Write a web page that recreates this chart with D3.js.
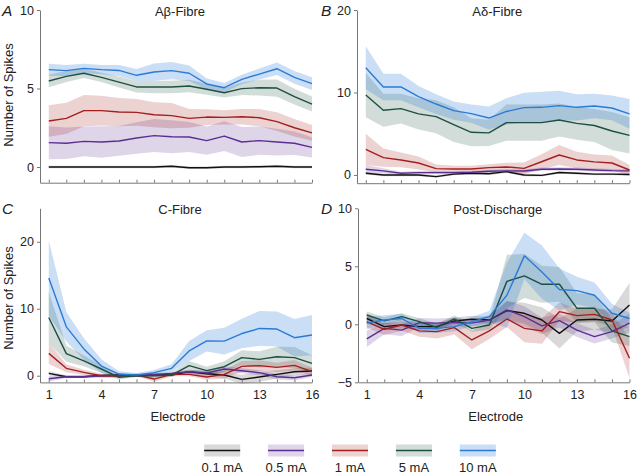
<!DOCTYPE html>
<html><head><meta charset="utf-8">
<script src="https://cdn.jsdelivr.net/npm/d3@7"></script>
<style>body{margin:0;background:#fff}svg{display:block}text{font-family:"Liberation Sans",Arial,sans-serif}</style>
</head><body><svg id="c" width="640" height="475"></svg>
<script>
const electrodes = d3.range(1, 17);
const seriesLabels = ["0.1 mA", "0.5 mA", "1 mA", "5 mA", "10 mA"];
const seriesColors = ["#111111", "#5c2d91", "#a31f1f", "#1d4f43", "#2b7bd6"];
const bandOpacity = [0.16, 0.2, 0.2, 0.2, 0.25];
const xTickLabels = [1, 4, 7, 10, 13, 16];
const panelTitles = ["A\u03b2-Fibre", "A\u03b4-Fibre", "C-Fibre", "Post-Discharge"];
const panelLetters = ["A", "B", "C", "D"];
const yTicksA = [0, 5, 10], yTicksB = [0, 10, 20], yTicksC = [0, 10, 20], yTicksD = [-5, 0, 5, 10];

// Panel A: A-beta fibre (means, half-width of shaded band)
const meanA = [
  [0,0,0,0,0,0,0,0.05,-0.05,-0.05,0,0,0.02,0.05,0,0],
  [1.55,1.51,1.63,1.59,1.66,1.85,2.0,1.93,1.91,1.68,1.97,1.59,1.68,1.59,1.51,1.25],
  [2.93,3.1,3.59,3.59,3.5,3.48,3.33,3.27,3.1,3.18,3.16,3.2,3.14,2.89,2.5,2.17],
  [5.48,5.77,5.97,5.71,5.41,5.1,5.1,5.1,5.16,4.95,4.73,4.99,5.05,5.03,4.48,4.01],
  [6.2,6.14,6.28,6.2,6.15,5.84,6.05,6.14,5.97,5.29,5.05,5.58,5.92,6.26,5.71,5.31]
];
const errA = [
  [0.08,0.08,0.08,0.08,0.08,0.08,0.08,0.08,0.08,0.08,0.08,0.08,0.08,0.08,0.08,0.08],
  [1.05,1.0,0.95,1.0,0.95,1.0,1.05,1.05,0.95,0.9,0.95,0.95,0.9,0.85,0.75,0.65],
  [1.0,1.0,1.0,0.95,0.9,0.85,0.8,0.8,0.6,0.5,0.45,0.5,0.55,0.6,0.55,0.5],
  [0.4,0.35,0.3,0.3,0.35,0.35,0.4,0.4,0.4,0.35,0.3,0.4,0.5,0.55,0.5,0.48],
  [0.38,0.35,0.3,0.3,0.35,0.4,0.55,0.55,0.5,0.35,0.3,0.3,0.35,0.4,0.4,0.4]
];
// Panel B: A-delta fibre
const meanB = [
  [0.2,0,0,0,-0.2,0.1,0.2,0.15,0.4,0,-0.05,0.3,0.2,0.1,0.1,0.05],
  [0.7,0.5,0.2,0.28,0.28,0.28,0.32,0.44,0.5,0.48,0.7,0.73,0.7,0.6,0.52,0.5],
  [3.1,2.1,1.82,1.45,0.77,0.73,0.73,0.89,0.97,0.8,1.6,2.42,1.82,1.58,1.45,0.6],
  [9.7,7.84,8.04,7.4,7.07,6.1,5.17,5.1,6.34,6.34,6.34,6.67,6.26,6.0,5.33,4.8],
  [13.0,10.67,10.67,9.5,8.6,7.8,7.43,6.9,7.7,8.16,8.2,8.4,8.2,8.36,8.12,7.4]
];
const errB = [
  [0.15,0.15,0.15,0.15,0.15,0.15,0.15,0.15,0.15,0.15,0.15,0.15,0.15,0.15,0.15,0.15],
  [0.5,0.3,0.2,0.2,0.2,0.2,0.2,0.2,0.2,0.2,0.2,0.2,0.2,0.2,0.2,0.2],
  [1.9,1.1,0.9,0.8,0.5,0.4,0.4,0.4,0.5,0.7,0.9,1.2,1.0,0.9,0.9,0.6],
  [2.7,2.0,1.8,1.9,2.0,2.1,1.7,1.6,2.2,2.2,2.2,2.0,2.0,2.0,2.3,2.2],
  [2.6,1.6,1.6,1.3,1.2,1.1,1.1,1.4,1.6,1.8,1.9,1.8,1.6,1.5,1.5,1.8]
];
// Panel C: C fibre
const meanC = [
  [0.35,-0.15,-0.15,0.05,0.1,0,0.1,0.1,0.6,0.3,0.1,-0.55,-0.2,0.2,0.6,0.7],
  [-0.45,-0.15,-0.15,-0.05,0,0.1,0.2,0.35,0.6,0.4,1.0,0.75,0.45,-0.15,-0.3,0.1],
  [3.33,1.1,0.5,0,-0.05,0.1,-0.5,0.2,0.2,-0.2,0.2,1.4,1.5,1.24,1.54,0.6],
  [8.7,3.3,2.2,1.0,-0.25,0,0,0.1,1.5,0.75,1.34,2.7,2.44,2.84,2.7,1.84],
  [14.6,7.3,4.0,1.44,0.25,0.1,0.45,1.1,3.7,5.2,5.17,6.3,7.06,6.97,5.67,6.07]
];
const errC = [
  [0.3,0.2,0.2,0.2,0.2,0.2,0.2,0.2,0.3,0.4,0.5,0.7,0.7,0.6,0.5,0.5],
  [0.4,0.2,0.2,0.2,0.2,0.2,0.2,0.2,0.3,0.3,0.4,0.4,0.4,0.4,0.4,0.3],
  [1.6,0.6,0.4,0.3,0.3,0.2,0.4,0.3,0.3,0.4,0.6,0.8,0.8,0.7,0.8,0.6],
  [3.8,1.2,0.8,0.6,0.3,0.2,0.3,0.3,0.7,0.6,0.8,1.1,1.2,1.5,1.6,1.2],
  [5.6,2.2,1.6,1.0,0.4,0.3,0.4,0.6,1.5,1.6,2.0,2.2,2.6,2.6,2.8,3.0]
];
// Panel D: post-discharge
const meanD = [
  [0.5,-0.2,-0.06,-0.2,-0.2,0.29,0.43,0.37,1.18,0.95,0.37,-0.78,0.37,0.43,0.29,1.67],
  [-1.26,-0.35,-0.5,0.14,0.1,0.17,0.1,0.37,1.24,0.66,-0.14,0.32,-0.5,-1.06,-0.63,0.1],
  [0.23,-0.43,-0.06,-0.57,-0.63,-0.29,-1.35,-0.57,0.46,-0.35,-0.57,1.09,0.75,0.86,0.37,-2.93],
  [0.8,0.3,0.66,0.23,-0.26,0.46,-0.35,-0.06,3.7,4.17,3.45,3.45,1.38,1.38,-0.57,-1.06],
  [0.1,0.37,0.5,-0.35,-0.35,-0.2,0.23,0.66,2.5,5.9,4.5,3.0,2.9,2.5,0.95,0.5]
];
const errD = [
  [0.4,0.3,0.3,0.3,0.3,0.3,0.3,0.3,0.8,0.9,1.1,1.3,1.0,0.9,1.0,1.9],
  [0.7,0.5,0.5,0.4,0.4,0.4,0.3,0.4,0.8,0.9,0.7,0.6,0.6,0.6,0.6,0.8],
  [0.5,0.5,0.5,0.5,0.6,0.6,0.8,0.7,0.7,1.2,1.1,0.8,0.6,0.6,0.6,1.7],
  [0.3,0.3,0.3,0.3,0.3,0.3,0.3,0.4,2.3,1.9,1.6,1.5,1.3,1.2,1.0,0.8],
  [0.5,0.4,0.4,0.4,0.4,0.4,0.4,0.5,2.8,2.0,2.3,1.8,1.2,1.1,0.8,0.5]
];

const svg = d3.select("#c");
const panels = [
  {mean: meanA, err: errA, yDom: [-1, 10], yTicks: yTicksA, xr: [40, 312], yr: [182.7, 10], labels: false, ylabY: 95},
  {mean: meanB, err: errB, yDom: [-1, 20], yTicks: yTicksB, xr: [357, 629.5], yr: [183.2, 10], labels: false},
  {mean: meanC, err: errC, yDom: [-1, 25], yTicks: yTicksC, xr: [40, 312], yr: [382.4, 208.3], labels: true, ylabY: 298},
  {mean: meanD, err: errD, yDom: [-5, 10], yTicks: yTicksD, xr: [358, 629.5], yr: [382.3, 208.3], labels: true}
];
const axisCol = "#777";
panels.forEach((p, pi) => {
  const x = d3.scaleLinear().domain([0.5, 16]).range(p.xr);
  const y = d3.scaleLinear().domain(p.yDom).range(p.yr);
  const g = svg.append("g");
  p.mean.forEach((m, si) => {
    const area = d3.area().x((d, i) => x(electrodes[i]))
      .y0((d, i) => y(m[i] - p.err[si][i])).y1((d, i) => y(m[i] + p.err[si][i]));
    g.append("path").datum(m).attr("d", area).attr("fill", seriesColors[si]).attr("fill-opacity", bandOpacity[si]);
  });
  p.mean.forEach((m, si) => {
    const line = d3.line().x((d, i) => x(electrodes[i])).y(d => y(d));
    g.append("path").datum(m).attr("d", line).attr("fill", "none").attr("stroke", seriesColors[si]).attr("stroke-width", 1.4).attr("stroke-linejoin", "round");
  });
  const xa = g.append("g").attr("transform", `translate(0,${p.yr[0]})`)
    .call(d3.axisBottom(x).tickValues(electrodes).tickSizeInner(-3).tickSizeOuter(0)
      .tickFormat(d => p.labels && xTickLabels.includes(d) ? d : ""));
  xa.select(".domain").attr("stroke", axisCol);
  xa.selectAll(".tick line").attr("stroke", axisCol);
  xa.selectAll(".tick text").attr("font-size", 12.5).attr("fill", "#222").attr("dy", "1.1em")
    .attr("font-family", "Liberation Sans, Arial, sans-serif");
  const ya = g.append("g").attr("transform", `translate(${p.xr[0]},0)`)
    .call(d3.axisLeft(y).tickValues(p.yTicks).tickSize(3).tickSizeOuter(0).tickFormat(d => d < 0 ? "\u2212" + Math.abs(d) : d));
  ya.select(".domain").attr("stroke", axisCol);
  ya.selectAll(".tick line").attr("stroke", axisCol);
  ya.selectAll(".tick text").attr("font-size", 12.5).attr("fill", "#222")
    .attr("font-family", "Liberation Sans, Arial, sans-serif");
  const cx = (p.xr[0] + p.xr[1]) / 2 + 4;
  g.append("text").attr("x", cx).attr("y", p.yr[1] + 6).attr("text-anchor", "middle")
    .attr("font-size", 13).attr("fill", "#222").text(panelTitles[pi]);
  g.append("text").attr("x", pi % 2 === 0 ? 2 : 321).attr("y", p.yr[1] + 6)
    .attr("font-size", 15.5).attr("font-style", "italic").attr("fill", "#222").text(panelLetters[pi]);
  if (pi % 2 === 0) {
    g.append("text").attr("transform", `translate(13,${p.ylabY}) rotate(-90)`)
      .attr("text-anchor", "middle").attr("font-size", 13).attr("fill", "#222").text("Number of Spikes");
  }
  if (p.labels) {
    g.append("text").attr("x", cx - 2).attr("y", 421).attr("text-anchor", "middle")
      .attr("font-size", 13).attr("fill", "#222").text("Electrode");
  }
});
const lx = d3.scaleBand().domain(seriesLabels).range([203, 497]).paddingInner(0.4);
seriesLabels.forEach((lab, i) => {
  const x0 = lx(lab) + (lx.bandwidth() - 36) / 2;
  svg.append("rect").attr("x", x0).attr("y", 444.5).attr("width", 36).attr("height", 12)
    .attr("fill", seriesColors[i]).attr("fill-opacity", bandOpacity[i]);
  svg.append("line").attr("x1", x0).attr("x2", x0 + 36).attr("y1", 450.5).attr("y2", 450.5)
    .attr("stroke", seriesColors[i]).attr("stroke-width", 1.5);
  svg.append("text").attr("x", x0 + 18).attr("y", 472).attr("text-anchor", "middle")
    .attr("font-size", 13).attr("fill", "#222").text(lab);
});
</script></body></html>
